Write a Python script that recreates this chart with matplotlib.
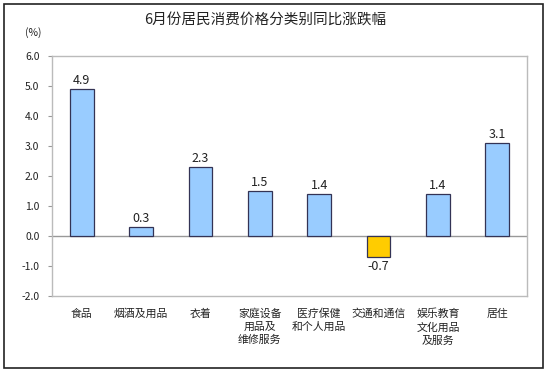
import matplotlib
matplotlib.use("Agg")
import matplotlib.pyplot as plt
from matplotlib.patches import Rectangle

plt.rcParams['font.family'] = ['Noto Sans CJK SC', 'DejaVu Sans']

categories = ["食品", "烟酒及用品", "衣着", "家庭设备\n用品及\n维修服务", "医疗保健\n和个人用品",
              "交通和通信", "娱乐教育\n文化用品\n及服务", "居住"]
values = [4.9, 0.3, 2.3, 1.5, 1.4, -0.7, 1.4, 3.1]
yticks = [-2.0, -1.0, 0.0, 1.0, 2.0, 3.0, 4.0, 5.0, 6.0]
title = "6月份居民消费价格分类别同比涨跌幅"

W, H = 550, 374
fig = plt.figure(figsize=(W / 100, H / 100), dpi=100)
fig.patch.set_facecolor('white')

# outer frame
fig.add_artist(Rectangle((4 / W, 1 - 368 / H), 539 / W, 364 / H, transform=fig.transFigure,
                         fill=False, edgecolor='#222222', linewidth=1.2))

ax = fig.add_axes([52 / W, 1 - 296 / H, 475 / W, 240 / H])
x = list(range(len(categories)))
colors = ['#99CCFF' if v >= 0 else '#FFCC00' for v in values]
ax.bar(x, values, width=0.4, color=colors, edgecolor='#333355', linewidth=0.9, zorder=3)
ax.axhline(0, color='#999999', linewidth=1.0, zorder=2)

for xi, v in zip(x, values):
    if v >= 0:
        ax.text(xi, v + 0.08, f"{v:.1f}", ha='center', va='bottom', fontsize=9, color='#222222')
    else:
        ax.text(xi, v - 0.1, f"{v:.1f}", ha='center', va='top', fontsize=9, color='#222222')

ax.set_xlim(-0.5, len(categories) - 0.5)
ax.set_ylim(-2, 6)
ax.set_yticks(yticks)
ax.set_yticklabels([f"{t:.1f}" for t in yticks], fontsize=7.5, color='#222222')
ax.tick_params(axis='y', length=3, color='#999999', pad=6)
ax.set_xticks(x)
ax.set_xticklabels(categories, fontsize=7.8, color='#222222', linespacing=1.35, va='top')
ax.tick_params(axis='x', length=0, pad=9)
for s in ax.spines.values():
    s.set_color('#BBBBBB')
    s.set_linewidth(1.0)

fig.text(265 / W, 1 - 20 / H, title, ha='center', va='center', fontsize=10.5, color='#222222')
fig.text(33 / W, 1 - 33 / H, "(%)", ha='center', va='center', fontsize=7.5, color='#222222')

fig.savefig("out.png", dpi=100)
